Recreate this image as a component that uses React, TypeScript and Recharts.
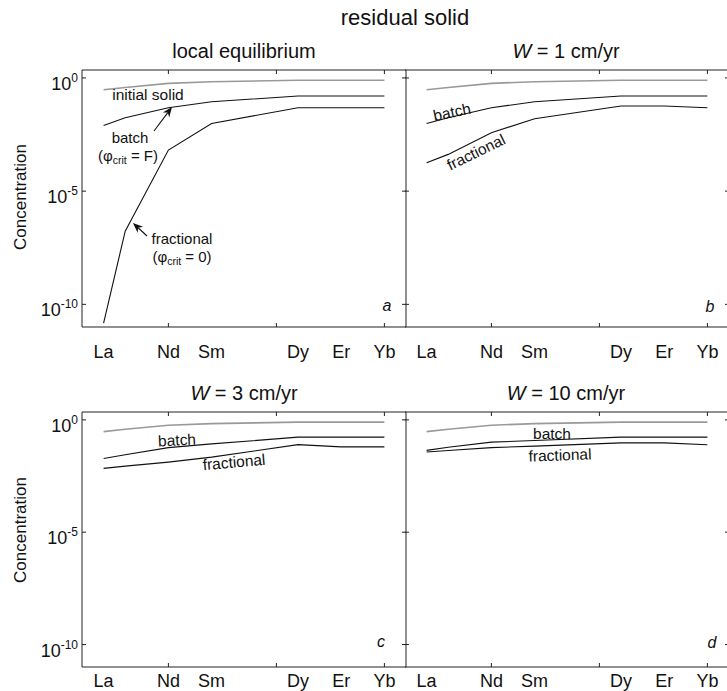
import React from 'react';
import { LineChart, Line, XAxis, YAxis } from 'recharts';

const FONT = "'Liberation Sans', Arial, Helvetica, sans-serif";

// Rare earth elements (x = atomic number)
const elements = ['La', 'Ce', 'Nd', 'Sm', 'Dy', 'Er', 'Yb'];
const atomicNumbers = [57, 58, 60, 62, 66, 68, 70];
const labelElements = ['La', 'Nd', 'Sm', 'Dy', 'Er', 'Yb'];
const labelNumbers = [57, 60, 62, 66, 68, 70];
const xTickMarks = [60, 65, 70];
const yTicks = [1e-10, 1e-5, 1];
const yExponents = ['-10', '-5', '0'];

// Concentrations
const initialSolid = [0.3, 0.38, 0.575, 0.68, 0.79, 0.79, 0.79];
const batchA = [0.0079, 0.0174, 0.048, 0.089, 0.158, 0.158, 0.158];
const fractionalA = [1.5e-11, 1.7e-7, 6.5e-4, 0.0098, 0.048, 0.048, 0.048];
const batchB = [0.0098, 0.0174, 0.048, 0.089, 0.158, 0.158, 0.158];
const fractionalB = [1.8e-4, 4.2e-4, 3.8e-3, 0.0158, 0.058, 0.058, 0.048];
const batchC = [0.019, 0.028, 0.058, 0.085, 0.17, 0.17, 0.17];
const fractionalC = [0.0069, 0.0087, 0.0132, 0.022, 0.079, 0.063, 0.063];
const batchD = [0.044, 0.06, 0.102, 0.12, 0.17, 0.17, 0.17];
const fractionalD = [0.037, 0.043, 0.058, 0.068, 0.095, 0.095, 0.078];

const makeRows = (batch: number[], fractional: number[]) =>
  atomicNumbers.map((z, i) => ({
    z,
    el: elements[i],
    initial: initialSolid[i],
    batch: batch[i],
    fractional: fractional[i],
  }));

const dataA = makeRows(batchA, fractionalA);
const dataB = makeRows(batchB, fractionalB);
const dataC = makeRows(batchC, fractionalC);
const dataD = makeRows(batchD, fractionalD);

const W = 740;
const H = 691;
const X_DOMAIN: [number, number] = [56, 71];
const Y_DOMAIN: [number, number] = [1e-11, Math.pow(10, 0.35)];
const TICK = 4;
const AXIS = '#222';

type Plot = { left: number; top: number; right: number; bottom: number };

function Panel({ plot, data, yLabels, xLabelDy, leftLine }: { plot: Plot; data: any[]; yLabels: boolean; xLabelDy: number; leftLine: boolean }) {
  const YW = 60, RW = 10, XH = 40, TH = 10;
  const bottomTicks = Array.from(new Set([...labelNumbers, ...xTickMarks])).sort((a, b) => a - b);
  const BottomTick = (p: any) => {
    const v = p.payload.value;
    const idx = labelNumbers.indexOf(v);
    return (
      <g>
        {xTickMarks.includes(v) && <line x1={p.x} x2={p.x} y1={p.y} y2={p.y - TICK} stroke={AXIS} strokeWidth={1} />}
        {idx >= 0 && (
          <text x={p.x} y={p.y + xLabelDy} textAnchor="middle" fontSize={18} fontFamily={FONT} fill="#111">
            {labelElements[idx]}
          </text>
        )}
      </g>
    );
  };
  const TopTick = (p: any) => <line x1={p.x} x2={p.x} y1={p.y} y2={p.y + TICK} stroke={AXIS} strokeWidth={1} />;
  const LeftTick = (p: any) => {
    const idx = yTicks.indexOf(p.payload.value);
    return (
      <g>
        <line x1={p.x} x2={p.x + TICK} y1={p.y} y2={p.y} stroke={AXIS} strokeWidth={1} />
        {yLabels && idx >= 0 && (
          <text x={p.x - 4} y={p.y + 12} textAnchor="end" fontSize={18} fontFamily={FONT} fill="#111">
            10
            <tspan dy={-8} fontSize={12}>{yExponents[idx]}</tspan>
          </text>
        )}
      </g>
    );
  };
  const RightTick = (p: any) => <line x1={p.x} x2={p.x - TICK} y1={p.y} y2={p.y} stroke={AXIS} strokeWidth={1} />;

  return (
    <div style={{ position: 'absolute', left: 0, top: 0 }}>
      <LineChart
        width={W}
        height={H}
        data={data}
        margin={{ top: plot.top - TH, left: plot.left - YW, right: W - plot.right - RW, bottom: H - plot.bottom - XH }}
      >
        <XAxis
          xAxisId="b"
          type="number"
          dataKey="z"
          domain={X_DOMAIN}
          allowDataOverflow
          ticks={bottomTicks}
          interval={0}
          orientation="bottom"
          height={XH}
          tickSize={0}
          tickMargin={0}
          tickLine={false}
          axisLine={{ stroke: AXIS, strokeWidth: 1 }}
          tick={BottomTick}
        />
        <XAxis
          xAxisId="t"
          type="number"
          dataKey="z"
          domain={X_DOMAIN}
          allowDataOverflow
          ticks={xTickMarks}
          interval={0}
          orientation="top"
          height={TH}
          tickSize={0}
          tickMargin={0}
          tickLine={false}
          axisLine={{ stroke: AXIS, strokeWidth: 1 }}
          tick={TopTick}
        />
        <YAxis
          yAxisId="l"
          type="number"
          scale="log"
          domain={Y_DOMAIN}
          allowDataOverflow
          ticks={yTicks}
          interval={0}
          orientation="left"
          width={YW}
          tickSize={0}
          tickMargin={0}
          tickLine={false}
          axisLine={leftLine ? { stroke: AXIS, strokeWidth: 1 } : false}
          tick={LeftTick}
        />
        <YAxis
          yAxisId="r"
          type="number"
          scale="log"
          domain={Y_DOMAIN}
          allowDataOverflow
          ticks={yTicks}
          interval={0}
          orientation="right"
          width={RW}
          tickSize={0}
          tickMargin={0}
          tickLine={false}
          axisLine={{ stroke: AXIS, strokeWidth: 1 }}
          tick={RightTick}
        />
        <Line xAxisId="b" yAxisId="l" type="linear" dataKey="initial" stroke="#999" strokeWidth={1.6} dot={false} isAnimationActive={false} />
        <Line xAxisId="b" yAxisId="l" type="linear" dataKey="batch" stroke="#111" strokeWidth={1.1} dot={false} isAnimationActive={false} />
        <Line xAxisId="b" yAxisId="l" type="linear" dataKey="fractional" stroke="#111" strokeWidth={1.1} dot={false} isAnimationActive={false} />
      </LineChart>
    </div>
  );
}

function Arrow({ x1, y1, x2, y2 }: { x1: number; y1: number; x2: number; y2: number }) {
  const a = Math.atan2(y2 - y1, x2 - x1);
  const L = 10, Wd = 4;
  const bx = x2 - L * Math.cos(a), by = y2 - L * Math.sin(a);
  const nx = x2 - 0.7 * L * Math.cos(a), ny = y2 - 0.7 * L * Math.sin(a);
  const p1 = `${bx + Wd * Math.sin(a)},${by - Wd * Math.cos(a)}`;
  const p2 = `${bx - Wd * Math.sin(a)},${by + Wd * Math.cos(a)}`;
  return (
    <g>
      <line x1={x1} y1={y1} x2={nx} y2={ny} stroke="#111" strokeWidth={1.1} />
      <polygon points={`${x2},${y2} ${p1} ${nx},${ny} ${p2}`} fill="#111" />
    </g>
  );
}

function Overlay() {
  const t = { fontFamily: FONT, fill: '#111' } as const;
  return (
    <svg width={727} height={691} style={{ position: 'absolute', left: 0, top: 0 }}>
      <text x={405} y={25} textAnchor="middle" fontSize={22} {...t}>residual solid</text>
      <text x={244} y={58} textAnchor="middle" fontSize={20} {...t}>local equilibrium</text>
      <text x={566} y={58} textAnchor="middle" fontSize={20} {...t}>
        <tspan fontStyle="italic">W</tspan> = 1 cm/yr
      </text>
      <text x={244} y={400} textAnchor="middle" fontSize={20} {...t}>
        <tspan fontStyle="italic">W</tspan> = 3 cm/yr
      </text>
      <text x={566} y={400} textAnchor="middle" fontSize={20} {...t}>
        <tspan fontStyle="italic">W</tspan> = 10 cm/yr
      </text>

      <text transform="translate(26,197) rotate(-90)" textAnchor="middle" fontSize={17} {...t}>Concentration</text>
      <text transform="translate(26,530) rotate(-90)" textAnchor="middle" fontSize={17} {...t}>Concentration</text>

      {/* panel a */}
      <text x={148} y={100} textAnchor="middle" fontSize={15.5} {...t}>initial solid</text>
      <text x={130} y={143} textAnchor="middle" fontSize={15} {...t}>batch</text>
      <text x={128} y={161} textAnchor="middle" fontSize={15} {...t}>
        (φ<tspan fontSize={10.5} dy={3}>crit</tspan><tspan dy={-3}> = F)</tspan>
      </text>
      <Arrow x1={154} y1={131} x2={172} y2={107} />
      <text x={182} y={244} textAnchor="middle" fontSize={15} {...t}>fractional</text>
      <text x={182} y={262} textAnchor="middle" fontSize={15} {...t}>
        (φ<tspan fontSize={10.5} dy={3}>crit</tspan><tspan dy={-3}> = 0)</tspan>
      </text>
      <Arrow x1={147} y1={236} x2={133} y2={223} />
      <text x={387} y={311} textAnchor="middle" fontSize={16} fontStyle="italic" {...t}>a</text>

      {/* panel b */}
      <text transform="translate(452,112) rotate(-12)" textAnchor="middle" dominantBaseline="central" fontSize={15.5} {...t}>batch</text>
      <text transform="translate(476,152) rotate(-26)" textAnchor="middle" dominantBaseline="central" fontSize={15.5} {...t}>fractional</text>
      <text x={710} y={312} textAnchor="middle" fontSize={16} fontStyle="italic" {...t}>b</text>

      {/* panel c */}
      <text transform="translate(177,440) rotate(-3)" textAnchor="middle" dominantBaseline="central" fontSize={15.5} {...t}>batch</text>
      <text transform="translate(234,462) rotate(-5)" textAnchor="middle" dominantBaseline="central" fontSize={15.5} {...t}>fractional</text>
      <text x={381} y={647} textAnchor="middle" fontSize={16} fontStyle="italic" {...t}>c</text>

      {/* panel d */}
      <text transform="translate(552,433)" textAnchor="middle" dominantBaseline="central" fontSize={15.5} {...t}>batch</text>
      <text transform="translate(560,455) rotate(-2)" textAnchor="middle" dominantBaseline="central" fontSize={15.5} {...t}>fractional</text>
      <text x={712} y={648} textAnchor="middle" fontSize={16} fontStyle="italic" {...t}>d</text>
    </svg>
  );
}

export default function App() {
  return (
    <div style={{ position: 'absolute', left: 0, top: 0, width: 727, height: 691, overflow: 'hidden', background: '#fff', fontFamily: FONT }}>
      <Panel plot={{ left: 82, top: 70, right: 406, bottom: 327 }} data={dataA} yLabels={true} xLabelDy={31} leftLine={true} />
      <Panel plot={{ left: 405, top: 70, right: 729, bottom: 327 }} data={dataB} yLabels={false} xLabelDy={31} leftLine={false} />
      <Panel plot={{ left: 82, top: 412, right: 406, bottom: 667 }} data={dataC} yLabels={true} xLabelDy={20} leftLine={true} />
      <Panel plot={{ left: 405, top: 412, right: 729, bottom: 667 }} data={dataD} yLabels={false} xLabelDy={20} leftLine={false} />
      <Overlay />
    </div>
  );
}
